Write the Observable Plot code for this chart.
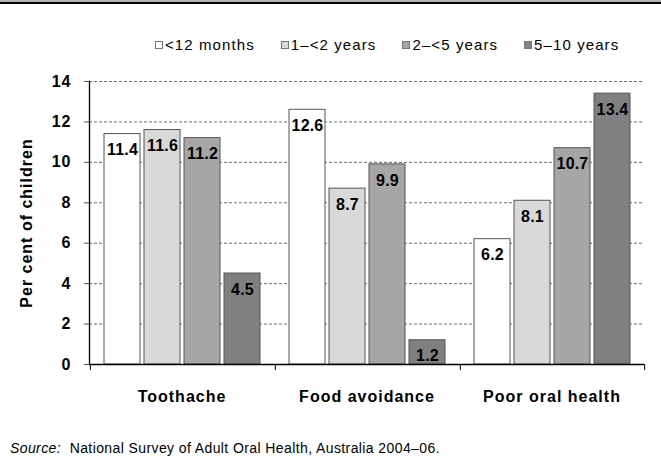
<!DOCTYPE html>
<html>
<head>
<meta charset="utf-8">
<script src="https://cdn.jsdelivr.net/npm/d3@7"></script>
<script src="https://cdn.jsdelivr.net/npm/@observablehq/plot@0.6"></script>
<style>
  html, body { margin: 0; padding: 0; background: #fff; }
  body { width: 661px; height: 466px; position: relative; overflow: hidden;
         font-family: "Liberation Sans", Arial, sans-serif; color: #000; }
  #topbar1 { position: absolute; left: 0; top: 0; width: 661px; height: 2px; background: #b4b4b4; }
  #topbar2 { position: absolute; left: 0; top: 2px; width: 661px; height: 2px; background: #000; }
  #legend { position: absolute; left: 155px; top: 36px; display: flex; gap: 26px;
            font-size: 15px; letter-spacing: 1.1px; line-height: 18px; }
  #legend .item { display: flex; align-items: center; }
  #legend .sw { width: 8px; height: 8px; border: 1px solid #777; margin-right: 2px; box-sizing: border-box; }
  #chart { position: absolute; left: 0; top: 60px; }
  #caption { position: absolute; left: 10px; top: 440px; font-size: 14px; letter-spacing: 0.4px; white-space: pre; }
  #chart svg text { letter-spacing: 1px; }
  #chart svg g.vals text { letter-spacing: 0.2px; }
</style>
</head>
<body>
<div id="topbar1"></div>
<div id="topbar2"></div>
<div id="legend"></div>
<div id="chart"></div>
<div id="caption"><i>Source:</i>  National Survey of Adult Oral Health, Australia 2004–06.</div>
<script>
const categories = ["Toothache", "Food avoidance", "Poor oral health"];
const ageGroups = ["<12 months", "1–<2 years", "2–<5 years", "5–10 years"];
const toothache = [11.4, 11.6, 11.2, 4.5];
const foodAvoidance = [12.6, 8.7, 9.9, 1.2];
const poorOralHealth = [6.2, 8.1, 10.7, 13.4];
const yTicks = [0, 2, 4, 6, 8, 10, 12, 14];
const gridTicks = [2, 4, 6, 8, 10, 12, 14];
const yLabel = "Per cent of children";
const colors = ["#ffffff", "#d9d9d9", "#a6a6a6", "#808080"];

const series = [toothache, foodAvoidance, poorOralHealth];
const data = [];
categories.forEach((c, i) => ageGroups.forEach((a, j) => data.push({cat: c, age: a, value: series[i][j]})));

// legend (HTML, above the SVG)
const legend = document.getElementById("legend");
ageGroups.forEach((a, j) => {
  const it = document.createElement("div");
  it.className = "item";
  const sw = document.createElement("span");
  sw.className = "sw";
  sw.style.background = colors[j];
  const tx = document.createElement("span");
  tx.textContent = a;
  it.appendChild(sw); it.appendChild(tx);
  legend.appendChild(it);
});

const W = 661, H = 360, mL = 89, mR = 17, mT = 21, mB = 56;
const padIn = 0.107, padOut = 0.35;
const fxStep = (W - mL - mR) / categories.length;
const xStep = fxStep / (ageGroups.length - padIn + 2 * padOut);
const edgeOffset = padOut * xStep + xStep * (1 - padIn) / 2; // band centre -> facet edge

const chart = Plot.plot({
  width: W, height: H,
  marginLeft: mL, marginRight: mR, marginTop: mT, marginBottom: mB,
  style: {fontFamily: "'Liberation Sans', Arial, sans-serif", fontSize: "16px", fontWeight: "bold", color: "#000", background: "#fff"},
  fx: {domain: categories, padding: 0, label: null},
  x: {domain: ageGroups, paddingInner: padIn, paddingOuter: padOut, axis: null},
  y: {domain: [0, 14], label: null},
  color: {domain: ageGroups, range: colors},
  marks: [
    Plot.ruleY(gridTicks, {y: d => d, stroke: "#444", strokeWidth: 0.8, strokeDasharray: "3,2"}),
    Plot.barY(data, {fx: "cat", x: "age", y: "value", fill: "age", stroke: "#555", strokeWidth: 1}),
    Plot.text(data, {fx: "cat", x: "age", y: "value", text: d => d.value.toFixed(1), dy: 16,
      fontSize: 16, fontWeight: "bold", fill: "#000", className: "vals"}),
    Plot.ruleY([0], {stroke: "#000", strokeWidth: 1.3}),
    Plot.frame({anchor: "left", facetAnchor: "left", stroke: "#000", strokeWidth: 1.3}),
    Plot.axisY({ticks: yTicks, tickSize: 5, tickPadding: 13, label: null, tickFormat: d => String(d), stroke: "#555"}),
    Plot.axisFx({anchor: "bottom", tickSize: 0, tickPadding: 26, label: null}),
    // group boundary ticks below the baseline
    Plot.ruleX(categories, {fx: d => d, x: () => ageGroups[0], y1: 0, y2: 0, insetBottom: -6,
      dx: -edgeOffset, stroke: "#222", strokeWidth: 1.2}),
    Plot.ruleX(categories.slice(-1), {fx: d => d, x: () => ageGroups[ageGroups.length - 1], y1: 0, y2: 0, insetBottom: -6,
      dx: edgeOffset, stroke: "#222", strokeWidth: 1.2}),
    Plot.text([yLabel], {text: d => d, frameAnchor: "left", facetAnchor: "left", rotate: -90, dx: -63,
      textAnchor: "middle", fontSize: 16, fontWeight: "bold", fill: "#000"})
  ]
});
document.getElementById("chart").appendChild(chart);
</script>
</body>
</html>
